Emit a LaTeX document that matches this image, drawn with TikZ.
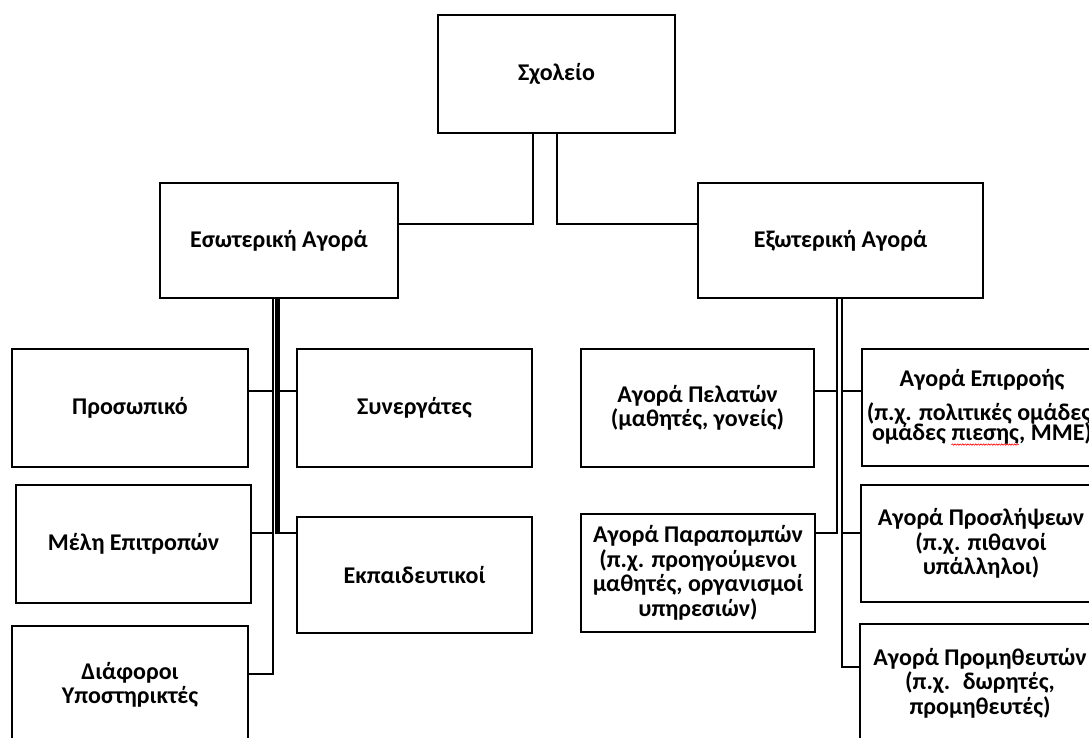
\documentclass[tikz,border=0pt]{standalone}
\usepackage{fontspec}
\setmainfont{Carlito}
\usetikzlibrary{decorations.pathmorphing}

% red wavy underline (spelling mark)
\newcommand\spellwave[1]{\tikz[baseline=(sw.base)]{%
  \node[draw=none, fill=none, inner sep=0pt, outer sep=0pt, minimum width=0pt,
        minimum height=0pt] (sw) {#1};
  \draw[red, line width=0.6pt, decorate,
        decoration={snake, amplitude=0.7pt, segment length=2.6pt}]
    ([yshift=-4.5pt]sw.base west) -- ([yshift=-4.5pt]sw.base east);}}

\tikzset{
  box/.style 2 args={draw, line width=2.8pt, minimum width=#1, minimum height=#2,
    align=center, inner sep=0pt, fill=white},
  conn/.style={line width=2pt},
  thinconn/.style={line width=1.4pt},
  bar/.style={line width=5pt},
}

\begin{document}
\begin{tikzpicture}[x=1pt, y=-1pt, font=\bfseries\fontsize{24}{24.5}\selectfont]
\useasboundingbox (0,0) rectangle (1089,738);
\clip (0,0) rectangle (1089,738);

% connector levels
\coordinate (yA) at (0,224);
\coordinate (y1) at (0,391);
\coordinate (y2) at (0,533);
\coordinate (y3) at (0,674);
\coordinate (y3r) at (0,667);

% top
\node[box={237pt}{118pt}] (sxo) at (556.5,74) {Σχολείο};
\node[box={238pt}{115pt}] (esw) at (279,240.5) {Εσωτερική Αγορά};
\node[box={285pt}{115pt}] (ext) at (840.5,240.5) {Εξωτερική Αγορά};

% internal market
\node[box={236pt}{118pt}] (pro) at (130,408) {Προσωπικό};
\node[box={235pt}{118pt}] (syn) at (414.5,408) {Συνεργάτες};
\node[box={235pt}{118pt}] (mel) at (133.5,544) {Μέλη Επιτροπών};
\node[box={235pt}{116pt}] (ekp) at (414.5,575) {Εκπαιδευτικοί};
\node[box={236pt}{118pt}] (dia) at (130,685) {Διάφοροι\\Υποστηρικτές};

% external market
\node[box={233pt}{118pt}] (pel) at (697.5,408) {Αγορά Πελατών\\(μαθητές, γονείς)};
\node[box={240pt}{117pt}] (epi) at (982,407.5) {Αγορά Επιρροής\\[9pt](π.χ. πολιτικές ομάδες,\\[-4.5pt]ομάδες \spellwave{πιεσης}, ΜΜΕ)};
\node[box={234pt}{118pt}] (par) at (698,573) {Αγορά Παραπομπών\\(π.χ. προηγούμενοι\\μαθητές, οργανισμοί\\υπηρεσιών)};
\node[box={240pt}{117pt}] (prl) at (981,543.5) {Αγορά Προσλήψεων\\(π.χ. πιθανοί\\υπάλληλοι)};
\node[box={240pt}{118pt}] (prm) at (980,683) {Αγορά Προμηθευτών\\(π.χ.~ δωρητές,\\προμηθευτές)};

% school to markets
\draw[thinconn] ([xshift=-23.5pt]sxo.south) |- (esw.east |- yA);
\draw[thinconn] ([xshift=0.5pt]sxo.south) |- (ext.west |- yA);

% internal market branches
\draw[conn] ([xshift=-6pt]esw.south) |- (pro.east |- y1);
\draw[conn] ([xshift=-6pt]esw.south) |- (mel.east |- y2);
\draw[conn] ([xshift=-6pt]esw.south) |- (dia.east |- y3);
\draw[conn] ([xshift=-1pt]esw.south) |- (syn.west |- y1);
\draw[conn] ([xshift=-1pt]esw.south) |- (ekp.west |- y2);
\draw[bar] ([xshift=-1.5pt]esw.south) -- ++(0,235);

% external market branches
\draw[conn] ([xshift=-3.5pt]ext.south) |- (pel.east |- y1);
\draw[conn] ([xshift=-3.5pt]ext.south) |- (par.east |- y2);
\draw[conn] ([xshift=1pt]ext.south) |- (epi.west |- y1);
\draw[conn] ([xshift=1pt]ext.south) |- (prl.west |- y2);
\draw[conn] ([xshift=1pt]ext.south) |- (prm.west |- y3r);
\end{tikzpicture}
\end{document}
